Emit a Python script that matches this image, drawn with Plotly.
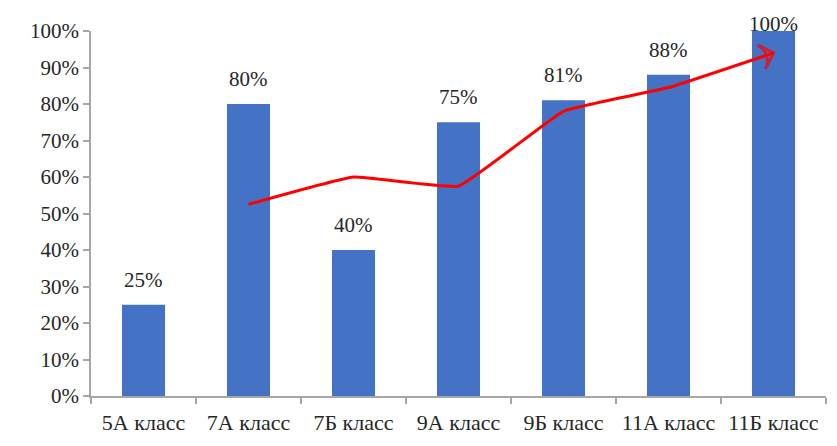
import plotly.graph_objects as go

categories = ["5А класс", "7А класс", "7Б класс", "9А класс", "9Б класс", "11А класс", "11Б класс"]
bar_values = [25, 80, 40, 75, 81, 88, 100]
trend_categories = ["7А класс", "7Б класс", "9А класс", "9Б класс", "11А класс", "11Б класс"]
trend_values = [52.5, 60, 57.5, 78, 84.5, 94]
y_ticks = [0, 10, 20, 30, 40, 50, 60, 70, 80, 90, 100]

FONT = "Liberation Serif"
AXIS_COLOR = "#a6a6a6"
FS = 21

fig = go.Figure()
fig.add_trace(go.Bar(
    x=categories, y=bar_values,
    marker=dict(color="#4472C4", line=dict(width=0)),
    width=0.41,
    hoverinfo="skip",
))
n = len(trend_values)
fig.add_trace(go.Scatter(
    x=trend_categories, y=trend_values,
    mode="lines+markers",
    line=dict(color="#FF0000", width=3, shape="spline", smoothing=0.3),
    marker=dict(
        symbol=["circle"] * (n - 1) + ["arrow-wide-open"],
        size=[0] * (n - 1) + [18],
        angleref="previous",
        color="#FF0000",
        line=dict(color="#FF0000", width=3),
    ),
    cliponaxis=False,
    hoverinfo="skip",
))

for c, v in zip(categories, bar_values):
    fig.add_annotation(
        x=c, y=v, text=f"{v}%", showarrow=False,
        yanchor="bottom", yshift=11 if v < 100 else -7,
        font=dict(family=FONT, size=FS, color="#262626"),
    )

fig.update_layout(
    width=829, height=438,
    margin=dict(l=83, r=11, t=23, b=50),
    paper_bgcolor="white", plot_bgcolor="white",
    showlegend=False,
    font=dict(family=FONT, size=FS, color="#262626"),
)
fig.update_xaxes(
    type="category", automargin=False,
    categoryorder="array", categoryarray=categories,
    showline=True, linecolor=AXIS_COLOR, linewidth=1.5,
    ticks="outside", ticklen=6, tickcolor=AXIS_COLOR, tickwidth=1.5,
    tickson="boundaries", ticklabelstandoff=6,
    showgrid=False, zeroline=False,
    tickfont=dict(family=FONT, size=22, color="#262626"),
)
fig.update_yaxes(
    range=[0, 100], automargin=False,
    tickvals=y_ticks, ticktext=[f"{t}%" for t in y_ticks],
    showline=True, linecolor=AXIS_COLOR, linewidth=1.5,
    ticks="outside", ticklen=6, tickcolor=AXIS_COLOR, tickwidth=1.5,
    showgrid=False, zeroline=False,
    tickfont=dict(family=FONT, size=FS, color="#262626"),
)

fig.write_html("out.html")
